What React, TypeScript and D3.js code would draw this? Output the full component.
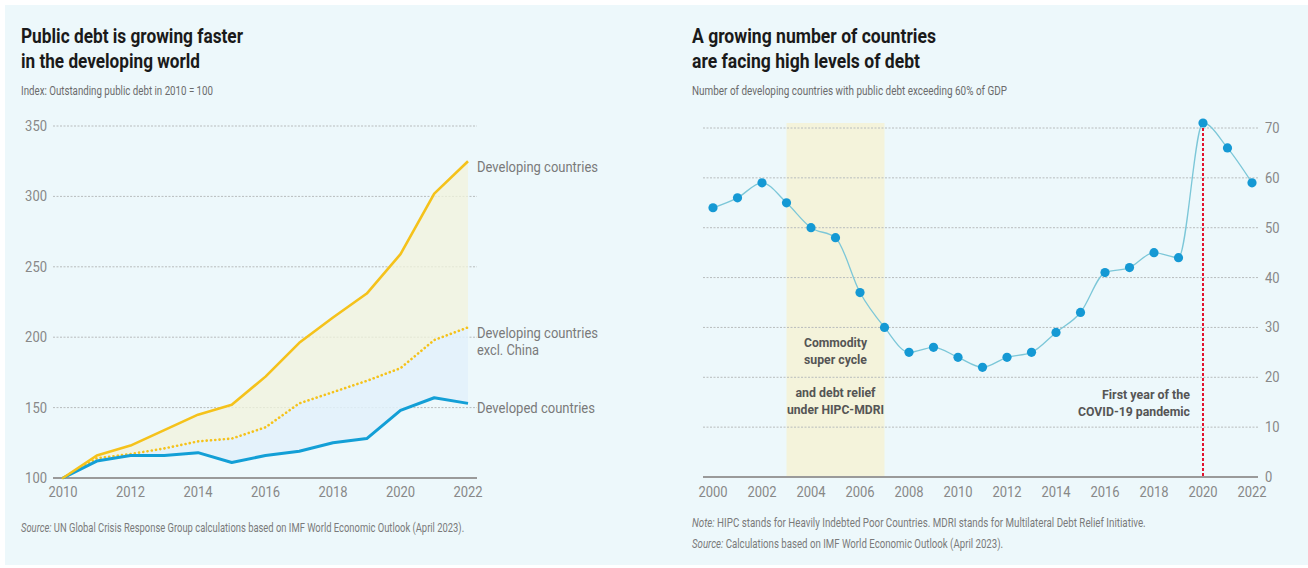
import React, { useLayoutEffect, useRef, useState } from "react";
import * as d3 from "d3";

// ---------- Left chart data ----------
const leftYears = [2010, 2011, 2012, 2013, 2014, 2015, 2016, 2017, 2018, 2019, 2020, 2021, 2022];
const developing = [100, 116, 123, 134, 145, 152, 172, 196, 214, 231, 259, 302, 325];
const developingExChina = [100, 114, 117, 121, 126, 128, 136, 153, 161, 169, 178, 198, 207];
const developed = [100, 112, 116, 116, 118, 111, 116, 119, 125, 128, 148, 157, 153];
const leftYTicks = [100, 150, 200, 250, 300, 350];
const leftXTicks = [2010, 2012, 2014, 2016, 2018, 2020, 2022];

// ---------- Right chart data ----------
const rightYears = [2000, 2001, 2002, 2003, 2004, 2005, 2006, 2007, 2008, 2009, 2010, 2011, 2012, 2013, 2014, 2015, 2016, 2017, 2018, 2019, 2020, 2021, 2022];
const highDebtCount = [54, 56, 59, 55, 50, 48, 37, 30, 25, 26, 24, 22, 24, 25, 29, 33, 41, 42, 45, 44, 71, 66, 59];
const rightYTicks = [0, 10, 20, 30, 40, 50, 60, 70];
const rightXTicks = [2000, 2002, 2004, 2006, 2008, 2010, 2012, 2014, 2016, 2018, 2020, 2022];
const bandStart = 2003;
const bandEnd = 2007;
const covidYear = 2020;

const FONT = "Roboto, 'Noto Sans', sans-serif";

function T(props: any) {
  const { x, y, w, size = 12, weight = 400, fill = "#777", anchor = "start", children } = props;
  return (
    <text
      x={x}
      y={y}
      fontSize={size}
      fontWeight={weight}
      fill={fill}
      textAnchor={anchor}
      fontFamily={FONT}
      textLength={w}
      lengthAdjust={w ? "spacingAndGlyphs" : undefined}
    >
      {children}
    </text>
  );
}

// Text horizontally scaled (condensed) to a target width, measured after layout
function FitText(props: any) {
  const { x, y, w, size = 12, fill = "#7a7a7a", children } = props;
  const ref = useRef<SVGTextElement>(null);
  const [s, setS] = useState(0.8);
  useLayoutEffect(() => {
    if (ref.current) {
      const L = ref.current.getComputedTextLength();
      if (L > 0) setS(w / L);
    }
  }, [w]);
  return (
    <text
      ref={ref}
      transform={`translate(${x},${y}) scale(${s},1)`}
      fontSize={size}
      fill={fill}
      fontFamily={FONT}
    >
      {children}
    </text>
  );
}

const digitW = 7.3;

export default function App() {
  // left scales
  const xL = d3.scaleLinear().domain([2010, 2022]).range([63, 468]);
  const yL = d3.scaleLinear().domain([100, 350]).range([478, 126]);
  // right scales
  const xR = d3.scaleLinear().domain([2000, 2022]).range([713, 1252]);
  const yR = d3.scaleLinear().domain([0, 70]).range([477, 128]);

  const lineL = (vals: number[]) =>
    d3.line<number>().x((_, i) => xL(leftYears[i])).y((d) => yL(d))(vals) || "";
  const areaBetween = (top: number[], bottom: number[]) =>
    d3
      .area<number>()
      .x((_, i) => xL(leftYears[i]))
      .y0((_, i) => yL(bottom[i]))
      .y1((d) => yL(d))(top) || "";

  const lineR =
    d3
      .line<number>()
      .x((_, i) => xR(rightYears[i]))
      .y((d) => yR(d))
      .curve(d3.curveMonotoneX)(highDebtCount) || "";

  const covidIdx = rightYears.indexOf(covidYear);
  const bandMid = (xR(bandStart) + xR(bandEnd)) / 2;

  return (
    <svg
      width={1308}
      height={568}
      style={{ position: "absolute", left: 0, top: 0, display: "block" }}
      fontFamily={FONT}
    >
      <rect x={0} y={0} width={1308} height={568} fill="#ffffff" />
      <rect x={5} y={5} width={1303} height={560} fill="#edf8fb" />

      {/* ================= LEFT CHART ================= */}
      <T x={21} y={43} w={222} size={20} weight={700} fill="#1a1a1a">Public debt is growing faster</T>
      <T x={21} y={68} w={179} size={20} weight={700} fill="#1a1a1a">in the developing world</T>
      <T x={21} y={95} w={192} size={12} fill="#6b6b6b">Index: Outstanding public debt in 2010 = 100</T>

      {/* gridlines */}
      {leftYTicks.filter((t) => t !== 100).map((t) => (
        <line key={"lg" + t} x1={53} x2={477} y1={yL(t)} y2={yL(t)} stroke="#b8bcbd" strokeWidth={1} strokeDasharray="2,1.5" />
      ))}
      {leftYTicks.map((t) => (
        <T key={"ly" + t} x={47} y={yL(t) + 5} w={String(t).length * digitW} size={14} fill="#888" anchor="end">{t}</T>
      ))}

      {/* areas */}
      <path d={areaBetween(developing, developingExChina)} fill="#f2f3dc" opacity={0.75} />
      <path d={areaBetween(developingExChina, developed)} fill="#e2f1fa" opacity={0.85} />

      {/* baseline */}
      <line x1={53} x2={477} y1={yL(100)} y2={yL(100)} stroke="#9a9a9a" strokeWidth={2} />

      {/* lines */}
      <path d={lineL(developingExChina)} fill="none" stroke="#f5c21b" strokeWidth={2.6} strokeDasharray="0.1,4.2" strokeLinecap="round" />
      <path d={lineL(developed)} fill="none" stroke="#139fd6" strokeWidth={3} strokeLinejoin="round" />
      <path d={lineL(developing)} fill="none" stroke="#f5c21b" strokeWidth={2.6} strokeLinejoin="round" />

      {/* x ticks */}
      {leftXTicks.map((t) => (
        <T key={"lx" + t} x={xL(t)} y={497} w={4 * digitW} size={14} fill="#888" anchor="middle">{t}</T>
      ))}

      {/* line labels */}
      <T x={477} y={172} w={121} size={14} fill="#7a7a7a">Developing countries</T>
      <T x={477} y={338} w={121} size={14} fill="#7a7a7a">Developing countries</T>
      <T x={477} y={355} w={62} size={14} fill="#7a7a7a">excl. China</T>
      <T x={477} y={413} w={118} size={14} fill="#7a7a7a">Developed countries</T>

      {/* source */}
      <FitText x={21} y={532} w={443} size={12.5}>
        <tspan fontStyle="italic">Source:</tspan> UN Global Crisis Response Group calculations based on IMF World Economic Outlook (April 2023).
      </FitText>

      {/* ================= RIGHT CHART ================= */}
      <T x={692} y={43} w={244} size={20} weight={700} fill="#1a1a1a">A growing number of countries</T>
      <T x={692} y={68} w={228} size={20} weight={700} fill="#1a1a1a">are facing high levels of debt</T>
      <T x={692} y={95} w={315} size={12} fill="#6b6b6b">Number of developing countries with public debt exceeding 60% of GDP</T>

      {/* band */}
      <rect x={xR(bandStart)} y={yR(70) - 5} width={xR(bandEnd) - xR(bandStart)} height={yR(0) - yR(70) + 5} fill="#f4f3db" />

      {/* gridlines */}
      {rightYTicks.filter((t) => t !== 0).map((t) => (
        <line key={"rg" + t} x1={703} x2={1258} y1={yR(t)} y2={yR(t)} stroke="#b8bcbd" strokeWidth={1} strokeDasharray="2,1.5" />
      ))}
      <line x1={703} x2={1258} y1={yR(0)} y2={yR(0)} stroke="#9a9a9a" strokeWidth={2} />
      {rightYTicks.map((t) => (
        <T key={"ry" + t} x={1265} y={yR(t) + 5} w={String(t).length * digitW} size={14} fill="#888">{t}</T>
      ))}
      {rightXTicks.map((t) => (
        <T key={"rx" + t} x={xR(t)} y={497} w={4 * digitW} size={14} fill="#888" anchor="middle">{t}</T>
      ))}

      {/* annotations */}
      <T x={bandMid} y={347} w={63} size={13} weight={700} fill="#555" anchor="middle">Commodity</T>
      <T x={bandMid} y={364} w={63} size={13} weight={700} fill="#555" anchor="middle">super cycle</T>
      <T x={bandMid} y={397} w={80} size={13} weight={700} fill="#555" anchor="middle">and debt relief</T>
      <T x={bandMid} y={414} w={97} size={13} weight={700} fill="#555" anchor="middle">under HIPC-MDRI</T>

      {/* covid line */}
      <line x1={xR(covidYear)} x2={xR(covidYear)} y1={yR(highDebtCount[covidIdx])} y2={yR(0)} stroke="#e3132f" strokeWidth={2} strokeDasharray="3,2" />
      <T x={1190} y={399} w={88} size={13} weight={700} fill="#555" anchor="end">First year of the</T>
      <T x={1190} y={416} w={112} size={13} weight={700} fill="#555" anchor="end">COVID-19 pandemic</T>

      {/* line + dots */}
      <path d={lineR} fill="none" stroke="#7cc7d8" strokeWidth={1.3} />
      {highDebtCount.map((v, i) => (
        <circle key={"d" + i} cx={xR(rightYears[i])} cy={yR(v)} r={4.6} fill="#1599d4" />
      ))}

      {/* notes */}
      <FitText x={692} y={527} w={453} size={12.5}>
        <tspan fontStyle="italic">Note:</tspan> HIPC stands for Heavily Indebted Poor Countries. MDRI stands for Multilateral Debt Relief Initiative.
      </FitText>
      <FitText x={692} y={548} w={311} size={12.5}>
        <tspan fontStyle="italic">Source:</tspan> Calculations based on IMF World Economic Outlook (April 2023).
      </FitText>
    </svg>
  );
}
